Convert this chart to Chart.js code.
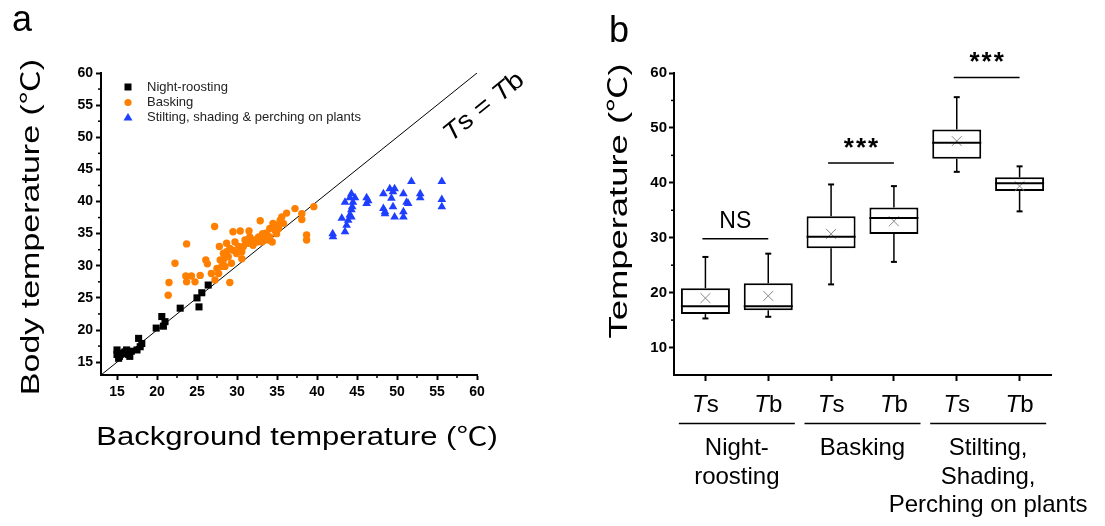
<!DOCTYPE html>
<html>
<head>
<meta charset="utf-8">
<script src="https://cdn.jsdelivr.net/npm/chart.js@4.4.0/dist/chart.umd.min.js"></script>
<style>
  html, body { margin: 0; padding: 0; background: #fff; }
  #wrap { position: relative; width: 1105px; height: 526px; overflow: hidden; }
  #chartA { position: absolute; left: 0; top: 0; }
  #chartB { position: absolute; left: 560px; top: 0; }
</style>
</head>
<body>
<div id="wrap">
  <canvas id="chartA" width="560" height="526"></canvas>
  <canvas id="chartB" width="545" height="526"></canvas>
</div>
<script>
// ---- panel a data: background temperature (x) vs body temperature (y)
const nightBg   = [15.0, 15.2, 15.0, 15.4, 15.6, 15.9, 16.2, 16.4, 16.6, 16.8, 17.5, 17.7, 18.1, 17.9, 19.9, 20.6, 20.8, 21.0, 22.9, 25.0, 25.25, 25.6, 26.4, 15.3, 16.0];
const nightBody = [16.9, 15.6, 16.2, 16.2, 16.4, 16.4, 16.9, 16.2, 15.9, 16.7, 16.9, 18.7, 17.9, 17.4, 20.3, 22.1, 20.6, 21.3, 23.4, 25.0, 23.6, 25.8, 27.0, 15.9, 16.6];

const baskBg   = [21.4, 21.5, 22.25, 23.7, 23.6, 23.7, 24.3, 24.75, 25.4, 26.1, 26.3, 26.8, 27.2, 27.25, 27.5, 27.8, 27.9, 28.3, 28.5, 28.7, 28.9, 29.1, 29.3, 29.5, 29.75, 29.95, 30.2, 29.5, 30.4, 30.6, 30.8, 31.0, 31.4, 31.6, 31.8, 32.0, 31.5, 32.5, 32.7, 32.9, 33.1, 33.5, 33.7, 34.1, 34.1, 34.4, 34.5, 34.75, 34.95, 34.95, 35.2, 35.4, 35.6, 35.8, 36.2, 37.25, 38.1, 38.1, 38.7, 38.7, 39.6, 28.3, 28.7, 29.1, 28.1, 27.7, 30.6, 32.2, 33.2, 33.9];
const baskBody = [25.4, 27.4, 30.4, 33.4, 28.4, 27.5, 28.4, 27.5, 28.5, 30.9, 30.3, 28.8, 36.1, 27.8, 29.6, 33.0, 30.9, 31.9, 29.9, 33.5, 31.4, 27.4, 30.4, 32.4, 33.7, 31.9, 33.0, 35.3, 35.4, 32.2, 33.0, 34.0, 33.5, 34.5, 33.7, 33.2, 35.4, 33.7, 34.5, 37.0, 33.7, 34.2, 35.1, 35.8, 34.5, 33.7, 36.6, 35.5, 35.0, 36.3, 35.8, 37.1, 37.6, 36.6, 38.2, 38.9, 38.1, 37.2, 34.8, 34.0, 39.2, 30.9, 32.2, 32.7, 29.9, 28.8, 31.1, 34.0, 35.0, 34.0];

const stiltBg   = [41.96, 42.0, 43.1, 43.5, 43.7, 43.9, 44.1, 44.3, 44.5, 44.1, 44.75, 43.5, 44.4, 44.3, 46.2, 46.2, 46.4, 48.3, 48.5, 48.5, 49.1, 49.3, 49.5, 49.7, 49.5, 49.7, 50.8, 50.8, 50.8, 51.2, 51.4, 51.8, 52.9, 52.9, 55.6, 55.6, 55.6, 48.3, 44.3];
const stiltBody = [35.0, 34.5, 37.4, 35.3, 36.3, 37.1, 37.9, 41.2, 39.9, 40.6, 40.6, 39.9, 39.2, 37.6, 40.6, 39.7, 40.1, 41.2, 38.4, 38.1, 42.0, 40.5, 41.5, 42.0, 39.2, 37.6, 37.6, 38.4, 41.2, 39.9, 39.7, 43.1, 41.2, 40.6, 43.1, 40.3, 39.2, 38.9, 38.7];

const seriesNames = ['Night-roosting', 'Basking', 'Stilting, shading & perching on plants'];
const ticksA = [15, 20, 25, 30, 35, 40, 45, 50, 55, 60];
const minorA = [17.5, 22.5, 27.5, 32.5, 37.5, 42.5, 47.5, 52.5, 57.5];
const rangeA = [13, 60];   // also the Ts = Tb identity line ends

// ---- panel b data: box plots
const catLabels = ['Ts', 'Tb', 'Ts', 'Tb', 'Ts', 'Tb'];
const boxMin    = [15.3, 15.6, 21.5, 25.6, 42.0, 34.8];
const boxQ1     = [16.1, 16.8, 28.1, 30.7, 44.4, 38.5];
const boxMedian = [17.5, 17.5, 30.2, 33.6, 47.3, 39.9];
const boxQ3     = [20.8, 21.7, 33.9, 35.5, 49.7, 41.0];
const boxMax    = [26.5, 27.1, 39.7, 39.4, 55.6, 43.0];
const boxMean   = [19.0, 19.4, 30.7, 33.0, 47.6, 39.4];
const groupLabels = [['Night-', 'roosting'], ['Basking'], ['Stilting,', 'Shading,', 'Perching on plants']];
const sigText = ['NS', '***', '***'];
const sigLevel = [29.8, 43.6, 59.2];
const ticksB = [10, 20, 30, 40, 50, 60];
const minorB = [15, 25, 35, 45, 55];

const FONT = '"Liberation Sans", Arial, "Noto Sans CJK JP", sans-serif';

function toPoints(xs, ys) {
    return xs.map((v, i) => ({ x: v, y: ys[i] }));
}

function seg(ctx, x1, y1, x2, y2) {
    ctx.beginPath();
    ctx.moveTo(x1, y1);
    ctx.lineTo(x2, y2);
    ctx.stroke();
}

// draw text made of runs [text, italic], centred on x, optional rotation and stretch
function drawRich(ctx, runs, x, y, size, opts = {}) {
    ctx.save();
    ctx.translate(x, y);
    ctx.rotate(opts.rot || 0);
    ctx.scale(opts.sx || 1, 1);
    ctx.fillStyle = opts.color || '#000';
    ctx.textBaseline = opts.baseline || 'alphabetic';
    ctx.textAlign = 'left';
    const fonts = runs.map(r => `${r[1] ? 'italic ' : ''}${opts.weight || 'normal'} ${size}px ${FONT}`);
    const widths = runs.map((r, i) => { ctx.font = fonts[i]; return ctx.measureText(r[0]).width; });
    let cx = -widths.reduce((a, b) => a + b, 0) / 2;
    runs.forEach((r, i) => {
        ctx.font = fonts[i];
        ctx.fillText(r[0], cx, 0);
        cx += widths[i];
    });
    ctx.restore();
}

const axisStyle = {
    border: { color: '#000', width: 2 },
    grid: { drawOnChartArea: false, color: '#000', tickColor: '#000', tickLength: 5, tickWidth: 2 }
};

// ---------------- panel a ----------------
const panelA = {
    id: 'panelA',
    afterDraw(chart) {
        const { ctx } = chart;
        const x = chart.scales.x, y = chart.scales.y;
        ctx.save();
        ctx.strokeStyle = '#000';
        ctx.lineWidth = 1.5;
        minorA.forEach(v => {
            const px = x.getPixelForValue(v);
            seg(ctx, px, y.bottom, px, y.bottom + 3);
            const py = y.getPixelForValue(v);
            seg(ctx, x.left - 3, py, x.left, py);
        });

        // legend
        const lx = 128, rows = [87, 102.5, 117.5];
        ctx.fillStyle = '#000';
        ctx.fillRect(lx - 3.5, rows[0] - 3.5, 7, 7);
        ctx.fillStyle = '#ff8000';
        ctx.beginPath(); ctx.arc(lx, rows[1], 3.6, 0, Math.PI * 2); ctx.fill();
        ctx.fillStyle = '#1f3fff';
        ctx.beginPath();
        ctx.moveTo(lx, rows[2] - 4.5); ctx.lineTo(lx + 4.5, rows[2] + 3); ctx.lineTo(lx - 4.5, rows[2] + 3);
        ctx.closePath(); ctx.fill();
        ctx.fillStyle = '#222';
        ctx.font = `13px ${FONT}`;
        ctx.textBaseline = 'middle';
        ctx.textAlign = 'left';
        seriesNames.forEach((t, i) => ctx.fillText(t, 147, rows[i]));
        ctx.restore();

        drawRich(ctx, [['a', false]], 22, 31, 36);
        drawRich(ctx, [['Background temperature (℃)', false]], 297, 445, 25, { sx: 1.24 });
        drawRich(ctx, [['Body temperature (℃)', false]], 32, 227, 25, { rot: -Math.PI / 2, sx: 1.36, baseline: 'middle' });
        drawRich(ctx, [['T', true], ['s = ', false], ['T', true], ['b', false]], 484, 107, 25,
            { rot: -Math.atan2(y.getPixelForValue(rangeA[0]) - y.getPixelForValue(rangeA[1]), x.getPixelForValue(rangeA[1]) - x.getPixelForValue(rangeA[0])), sx: 1.12, baseline: 'middle' });
    }
};

new Chart(document.getElementById('chartA'), {
    type: 'scatter',
    data: {
        datasets: [
            { label: seriesNames[0], data: toPoints(nightBg, nightBody), pointStyle: 'rect', pointRadius: 5, backgroundColor: '#000', borderWidth: 0 },
            { label: seriesNames[1], data: toPoints(baskBg, baskBody), pointStyle: 'circle', pointRadius: 3.7, backgroundColor: '#ff8000', borderWidth: 0 },
            { label: seriesNames[2], data: toPoints(stiltBg, stiltBody), pointStyle: 'triangle', pointRadius: 5, backgroundColor: '#1f3fff', borderWidth: 0 },
            { type: 'line', label: 'Ts = Tb', data: toPoints(rangeA, rangeA), borderColor: '#000', borderWidth: 1, pointRadius: 0 }
        ]
    },
    options: {
        responsive: false,
        animation: false,
        layout: { padding: { top: 73, right: 83, left: 0, bottom: 0 } },
        plugins: { legend: { display: false }, tooltip: { enabled: false } },
        scales: {
            x: {
                type: 'linear', min: rangeA[0], max: rangeA[1],
                afterBuildTicks: s => { s.ticks = ticksA.map(v => ({ value: v })); },
                afterFit: s => { s.height = 151; },
                ...axisStyle,
                ticks: { color: '#000', font: { family: FONT, weight: 'bold', size: 14 }, padding: 4, maxRotation: 0, autoSkip: false }
            },
            y: {
                type: 'linear', min: rangeA[0], max: rangeA[1],
                afterBuildTicks: s => { s.ticks = ticksA.map(v => ({ value: v })); },
                afterFit: s => { s.width = 101; },
                ...axisStyle,
                ticks: { color: '#000', font: { family: FONT, weight: 'bold', size: 14 }, padding: 3, autoSkip: false }
            }
        }
    },
    plugins: [panelA]
});

// ---------------- panel b ----------------
const panelB = {
    id: 'panelB',
    afterDatasetsDraw(chart) {
        const { ctx } = chart;
        const y = chart.scales.y;
        const bars = chart.getDatasetMeta(0).data;
        ctx.save();
        ctx.strokeStyle = '#000';
        bars.forEach((bar, i) => {
            const cx = bar.x, hw = bar.width / 2;
            ctx.lineWidth = 1.5;
            seg(ctx, cx, y.getPixelForValue(boxQ3[i]), cx, y.getPixelForValue(boxMax[i]));
            seg(ctx, cx, y.getPixelForValue(boxQ1[i]), cx, y.getPixelForValue(boxMin[i]));
            ctx.lineWidth = 2;
            seg(ctx, cx - 3, y.getPixelForValue(boxMax[i]), cx + 3, y.getPixelForValue(boxMax[i]));
            seg(ctx, cx - 3, y.getPixelForValue(boxMin[i]), cx + 3, y.getPixelForValue(boxMin[i]));
            seg(ctx, cx - hw, y.getPixelForValue(boxMedian[i]), cx + hw, y.getPixelForValue(boxMedian[i]));
        });
        ctx.restore();
    },
    afterDraw(chart) {
        const { ctx } = chart;
        const x = chart.scales.x, y = chart.scales.y;
        ctx.save();
        ctx.strokeStyle = '#000';
        ctx.lineWidth = 1.5;
        minorB.forEach(v => {
            const py = y.getPixelForValue(v);
            seg(ctx, x.left - 3, py, x.left, py);
        });

        // significance bars
        sigText.forEach((t, g) => {
            const x1 = x.getPixelForValue(2 * g) - 3, x2 = x.getPixelForValue(2 * g + 1);
            const py = y.getPixelForValue(sigLevel[g]);
            ctx.lineWidth = 1.5;
            seg(ctx, x1, py, x2, py);
            if (t === 'NS') {
                drawRich(ctx, [[t, false]], (x1 + x2) / 2, py - 11, 23);
            } else {
                ctx.save();
                ctx.letterSpacing = '2px';
                drawRich(ctx, [[t, false]], (x1 + x2) / 2 + 1, py - 7, 26, { weight: 'bold' });
                ctx.restore();
            }
        });

        // category labels
        catLabels.forEach((lab, i) => {
            drawRich(ctx, [[lab[0], true], [lab.slice(1), false]], x.getPixelForValue(i), 412, 24);
        });
        groupLabels.forEach((lines, g) => {
            const cx = (x.getPixelForValue(2 * g) + x.getPixelForValue(2 * g + 1)) / 2;
            ctx.lineWidth = 1.5;
            seg(ctx, cx - 58, 423.5, cx + 58, 423.5);
            lines.forEach((t, k) => drawRich(ctx, [[t, false]], cx, 455 + k * 28.5, 24));
        });
        ctx.restore();

        drawRich(ctx, [['b', false]], 59, 42, 36);
        drawRich(ctx, [['Temperature (℃)', false]], 60, 201, 26, { rot: -Math.PI / 2, sx: 1.4, baseline: 'middle' });
    }
};

new Chart(document.getElementById('chartB'), {
    type: 'bar',
    data: {
        labels: catLabels,
        datasets: [
            {
                label: 'box', data: boxQ1.map((q, i) => [q, boxQ3[i]]), order: 2,
                backgroundColor: '#fff', borderColor: '#000', borderWidth: 2, borderSkipped: false,
                barPercentage: 0.78, categoryPercentage: 1
            },
            {
                type: 'line', label: 'mean', data: boxMean, showLine: false, order: 1,
                pointStyle: 'crossRot', pointRadius: 7, borderColor: '#888', borderWidth: 1, backgroundColor: '#888'
            }
        ]
    },
    options: {
        responsive: false,
        animation: false,
        layout: { padding: { top: 73, right: 54, left: 0, bottom: 0 } },
        plugins: { legend: { display: false }, tooltip: { enabled: false } },
        scales: {
            x: {
                type: 'category', offset: true,
                afterFit: s => { s.height = 151; },
                border: { color: '#000', width: 2 },
                grid: { offset: false, drawOnChartArea: false, color: '#000', tickColor: '#000', tickLength: 6, tickWidth: 2 },
                ticks: { display: false }
            },
            y: {
                type: 'linear', min: 5, max: 60,
                afterBuildTicks: s => { s.ticks = ticksB.map(v => ({ value: v })); },
                afterFit: s => { s.width = 114; },
                ...axisStyle,
                ticks: { color: '#000', font: { family: FONT, weight: 'bold', size: 15 }, padding: 2, autoSkip: false }
            }
        }
    },
    plugins: [panelB]
});
</script>
</body>
</html>
